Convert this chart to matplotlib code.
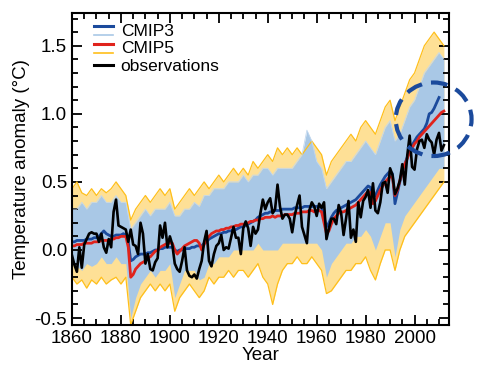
import numpy as np
import matplotlib
matplotlib.use('Agg')
import matplotlib.pyplot as plt
from matplotlib.lines import Line2D
from matplotlib.patches import Ellipse
from matplotlib.legend_handler import HandlerBase
from matplotlib.ticker import MultipleLocator, FormatStrFormatter

plt.rcParams['font.family'] = ['Liberation Sans', 'DejaVu Sans']
plt.rcParams['axes.unicode_minus'] = False

## Data

years = np.arange(1860, 2013)
env_years = np.arange(1860, 2013, 2)

# observations (annual), 1860-2012
obs = [-0.04, -0.11, -0.16, 0.02, -0.13, 0.04, 0.08, 0.12, 0.13, 0.12,
       0.12, 0.06, 0.12, 0.02, -0.02, 0.08, 0.02, 0.28, 0.37, 0.18,
       0.17, 0.16, 0.15, 0.06, 0.15, 0.04, 0.03, -0.03, 0.20, 0.12,
       -0.10, -0.03, -0.14, -0.15, -0.09, -0.06, 0.18, 0.09, 0.20, 0.02,
       0.10, 0.04, -0.10, -0.14, -0.16, -0.08, 0.02, -0.15, -0.19, -0.20,
       -0.18, -0.21, -0.14, -0.08, 0.06, 0.14, -0.08, -0.12, -0.03, 0.03,
       0.05, 0.11, 0.00, 0.02, 0.01, 0.09, 0.17, 0.09, 0.09, -0.03,
       0.16, 0.21, 0.16, 0.03, 0.17, 0.12, 0.15, 0.27, 0.37, 0.30,
       0.35, 0.38, 0.27, 0.30, 0.48, 0.32, 0.23, 0.26, 0.26, 0.23,
       0.13, 0.25, 0.33, 0.40, 0.17, 0.11, 0.05, 0.29, 0.35, 0.32,
       0.25, 0.34, 0.31, 0.35, 0.08, 0.16, 0.23, 0.23, 0.19, 0.33,
       0.27, 0.11, 0.23, 0.36, 0.09, 0.15, 0.06, 0.35, 0.24, 0.36,
       0.39, 0.44, 0.31, 0.49, 0.29, 0.27, 0.35, 0.49, 0.50, 0.42,
       0.60, 0.55, 0.41, 0.45, 0.51, 0.63, 0.48, 0.69, 0.84, 0.61,
       0.59, 0.74, 0.80, 0.81, 0.75, 0.85, 0.81, 0.79, 0.70, 0.81,
       0.86, 0.73, 0.77]

# CMIP5 multi-model mean, 1860-2012
cmip5_mean = [0.03, 0.03, 0.04, 0.04, 0.04, 0.05, 0.05, 0.05, 0.05, 0.06,
              0.06, 0.06, 0.07, 0.07, 0.07, 0.07, 0.08, 0.08, 0.09, 0.09,
              0.10, 0.10, 0.10, 0.02, -0.20, -0.18, -0.14, -0.12, -0.10, -0.09,
              -0.08, -0.06, -0.05, -0.03, -0.01, 0.00, 0.02, 0.03, 0.04, 0.05,
              0.05, 0.05, 0.00, -0.03, -0.01, 0.01, 0.03, 0.04, 0.05, 0.06,
              0.07, 0.07, 0.05, 0.00, 0.04, 0.08, 0.10, 0.12, 0.13, 0.14,
              0.14, 0.15, 0.15, 0.16, 0.16, 0.17, 0.17, 0.18, 0.18, 0.19,
              0.19, 0.19, 0.20, 0.21, 0.21, 0.22, 0.22, 0.23, 0.23, 0.24,
              0.24, 0.24, 0.25, 0.24, 0.25, 0.25, 0.25, 0.26, 0.26, 0.26,
              0.26, 0.27, 0.27, 0.27, 0.28, 0.28, 0.28, 0.29, 0.29, 0.28,
              0.29, 0.29, 0.28, 0.20, 0.12, 0.14, 0.19, 0.23, 0.25, 0.27,
              0.28, 0.28, 0.29, 0.30, 0.31, 0.32, 0.33, 0.35, 0.37, 0.39,
              0.41, 0.43, 0.42, 0.34, 0.36, 0.40, 0.44, 0.47, 0.50, 0.52,
              0.54, 0.53, 0.40, 0.44, 0.51, 0.58, 0.63, 0.67, 0.72, 0.75,
              0.78, 0.80, 0.83, 0.85, 0.87, 0.89, 0.91, 0.93, 0.95, 0.97,
              0.99, 1.01, 1.02]

# CMIP3 multi-model mean, 1860-2010
cmip3_mean = [0.06, 0.06, 0.07, 0.07, 0.07, 0.07, 0.08, 0.08, 0.08, 0.09,
              0.09, 0.10, 0.12, 0.14, 0.12, 0.11, 0.10, 0.10, 0.11, 0.11,
              0.11, 0.12, 0.11, 0.06, -0.08, -0.07, -0.05, -0.04, -0.03, -0.03,
              -0.03, -0.02, -0.02, -0.01, 0.00, 0.00, 0.01, 0.01, 0.02, 0.02,
              0.02, 0.02, 0.00, -0.01, 0.00, 0.00, 0.01, 0.01, 0.01, 0.02,
              0.02, 0.03, 0.03, 0.03, 0.05, 0.06, 0.08, 0.09, 0.10, 0.11,
              0.12, 0.12, 0.13, 0.13, 0.14, 0.14, 0.15, 0.15, 0.16, 0.17,
              0.17, 0.18, 0.19, 0.20, 0.21, 0.22, 0.24, 0.25, 0.26, 0.27,
              0.27, 0.28, 0.28, 0.29, 0.29, 0.29, 0.30, 0.30, 0.30, 0.30,
              0.30, 0.31, 0.31, 0.31, 0.31, 0.32, 0.32, 0.32, 0.32, 0.32,
              0.32, 0.32, 0.31, 0.24, 0.17, 0.20, 0.24, 0.27, 0.29, 0.30,
              0.31, 0.32, 0.33, 0.34, 0.35, 0.36, 0.37, 0.39, 0.41, 0.43,
              0.45, 0.47, 0.46, 0.38, 0.40, 0.44, 0.48, 0.51, 0.54, 0.56,
              0.58, 0.56, 0.34, 0.42, 0.50, 0.58, 0.63, 0.68, 0.73, 0.77,
              0.80, 0.83, 0.85, 0.87, 0.89, 0.93, 1.00, 1.01, 1.04, 1.08,
              1.12]

# ensemble spread, every second year 1860-2012
cmip5_hi = [0.45, 0.50, 0.42, 0.40, 0.45, 0.40, 0.45, 0.42, 0.45, 0.50,
            0.45, 0.40, 0.22, 0.30, 0.35, 0.40, 0.35, 0.40, 0.45, 0.40,
            0.45, 0.30, 0.35, 0.40, 0.45, 0.40, 0.45, 0.50, 0.45, 0.50,
            0.55, 0.50, 0.55, 0.60, 0.55, 0.60, 0.55, 0.65, 0.60, 0.65,
            0.70, 0.65, 0.75, 0.70, 0.75, 0.70, 0.75, 0.70, 0.75, 0.80,
            0.75, 0.70, 0.55, 0.65, 0.70, 0.75, 0.80, 0.85, 0.80, 0.90,
            0.95, 0.90, 0.85, 0.95, 1.05, 1.10, 0.95, 1.05, 1.15, 1.25,
            1.30, 1.40, 1.50, 1.55, 1.60, 1.55, 1.50]
cmip5_lo = [-0.20, -0.25, -0.22, -0.28, -0.22, -0.25, -0.20, -0.25, -0.22, -0.20,
            -0.25, -0.20, -0.55, -0.45, -0.35, -0.30, -0.25, -0.30, -0.25, -0.30,
            -0.25, -0.45, -0.35, -0.30, -0.25, -0.30, -0.35, -0.30, -0.20, -0.25,
            -0.20, -0.20, -0.15, -0.20, -0.15, -0.15, -0.20, -0.15, -0.10, -0.20,
            -0.25, -0.40, -0.25, -0.15, -0.10, -0.10, -0.05, -0.10, -0.10, -0.05,
            -0.10, -0.15, -0.32, -0.30, -0.25, -0.20, -0.15, -0.15, -0.10, -0.10,
            -0.05, -0.15, -0.22, -0.10, 0.00, 0.00, -0.15, 0.00, 0.10, 0.15,
            0.20, 0.25, 0.30, 0.35, 0.40, 0.45, 0.50]
cmip3_hi = [0.30, 0.30, 0.35, 0.30, 0.35, 0.35, 0.40, 0.35, 0.35, 0.40,
            0.35, 0.35, 0.15, 0.20, 0.25, 0.30, 0.25, 0.30, 0.30, 0.30,
            0.35, 0.25, 0.25, 0.30, 0.30, 0.35, 0.32, 0.40, 0.40, 0.45,
            0.45, 0.45, 0.50, 0.50, 0.50, 0.55, 0.50, 0.55, 0.55, 0.60,
            0.60, 0.55, 0.60, 0.60, 0.60, 0.60, 0.65, 0.70, 0.88, 0.80,
            0.65, 0.60, 0.45, 0.50, 0.55, 0.60, 0.65, 0.65, 0.70, 0.75,
            0.80, 0.75, 0.70, 0.80, 0.90, 0.95, 0.80, 0.85, 0.95, 1.05,
            1.10, 1.20, 1.30, 1.35, 1.40, 1.45, 1.40]
cmip3_lo = [-0.10, -0.12, -0.15, -0.10, -0.12, -0.10, -0.05, -0.10, -0.10, -0.05,
            -0.10, -0.10, -0.50, -0.35, -0.25, -0.20, -0.15, -0.20, -0.15, -0.15,
            -0.10, -0.35, -0.25, -0.15, -0.15, -0.15, -0.22, -0.20, -0.10, -0.10,
            -0.05, -0.05, -0.05, 0.00, 0.00, 0.00, 0.00, 0.00, 0.05, 0.00,
            0.00, 0.00, 0.00, 0.05, 0.05, 0.05, 0.05, 0.05, 0.05, 0.05,
            0.05, 0.00, -0.20, -0.10, -0.05, 0.00, 0.05, 0.05, 0.10, 0.10,
            0.15, 0.10, 0.00, 0.10, 0.20, 0.20, -0.05, 0.15, 0.25, 0.30,
            0.35, 0.40, 0.45, 0.50, 0.55, 0.60, 0.60]

# highlighted period (centre year, centre value, width in years, height)
circle = (2007.8, 0.96, 31, 0.54)

dark_blue = '#1b4a9c'
light_blue = '#a9c8e6'
red = '#e0231c'
yellow = '#ffbf1a'


class PairKey(object):
    def __init__(self, top, bottom):
        self.top = top
        self.bottom = bottom


class PairHandler(HandlerBase):
    def create_artists(self, legend, key, xdescent, ydescent, width, height, fontsize, trans):
        top = Line2D([0, width], [0.8 * height, 0.8 * height], color=key.top, lw=2.2, transform=trans)
        bottom = Line2D([0, width], [0.05 * height, 0.05 * height], color=key.bottom, lw=1.2, transform=trans)
        return [top, bottom]


## Plot

fig = plt.figure(figsize=(4.8, 3.73), dpi=100)
ax = fig.add_axes([0.15, 0.129, 0.785, 0.836])

ax.fill_between(env_years, cmip5_lo, cmip5_hi, color='#fee096', lw=0)
ax.plot(env_years, cmip5_hi, color=yellow, lw=0.9)
ax.plot(env_years, cmip5_lo, color=yellow, lw=0.9)
ax.fill_between(env_years, cmip3_lo, cmip3_hi, color=light_blue, lw=0)
ax.plot(env_years, cmip3_hi, color='#c3d8ee', lw=0.6)

ax.plot(years[:len(cmip3_mean)], cmip3_mean, color=dark_blue, lw=2)
ax.plot(years, cmip5_mean, color=red, lw=2)
ax.plot(years, obs, color='black', lw=1.9)

cx, cy, cw, ch = circle
ax.add_patch(Ellipse((cx, cy), cw, ch, fill=False, edgecolor=dark_blue, lw=3,
                     linestyle=(0, (4, 2.2)), clip_on=False, zorder=5))

ax.set_xlim(1860, 2014)
ax.set_ylim(-0.55, 1.74)
ax.xaxis.set_major_locator(MultipleLocator(20))
ax.xaxis.set_minor_locator(MultipleLocator(5))
ax.yaxis.set_major_locator(MultipleLocator(0.5))
ax.yaxis.set_minor_locator(MultipleLocator(0.1))
ax.yaxis.set_major_formatter(FormatStrFormatter('%.1f'))
ax.tick_params(which='both', direction='in', top=True, right=True, width=1.3, labelsize=13.5)
ax.tick_params(which='major', length=7)
ax.tick_params(which='minor', length=4)
for s in ax.spines.values():
    s.set_linewidth(1.5)

ax.set_xlabel('Year', fontsize=13.5, labelpad=0)
ax.set_ylabel('Temperature anomaly (\u00b0C)', fontsize=13.5, labelpad=3)

handles = [PairKey(dark_blue, light_blue), PairKey(red, yellow),
           Line2D([], [], color='black', lw=2.2)]
ax.legend(handles, ['CMIP3', 'CMIP5', 'observations'],
          handler_map={PairKey: PairHandler()},
          loc='upper left', bbox_to_anchor=(0.03, 1.0), frameon=False,
          fontsize=12.5, handlelength=1.1, handletextpad=0.45,
          labelspacing=0.15, borderaxespad=0.2)

fig.savefig('out.png', dpi=100)
